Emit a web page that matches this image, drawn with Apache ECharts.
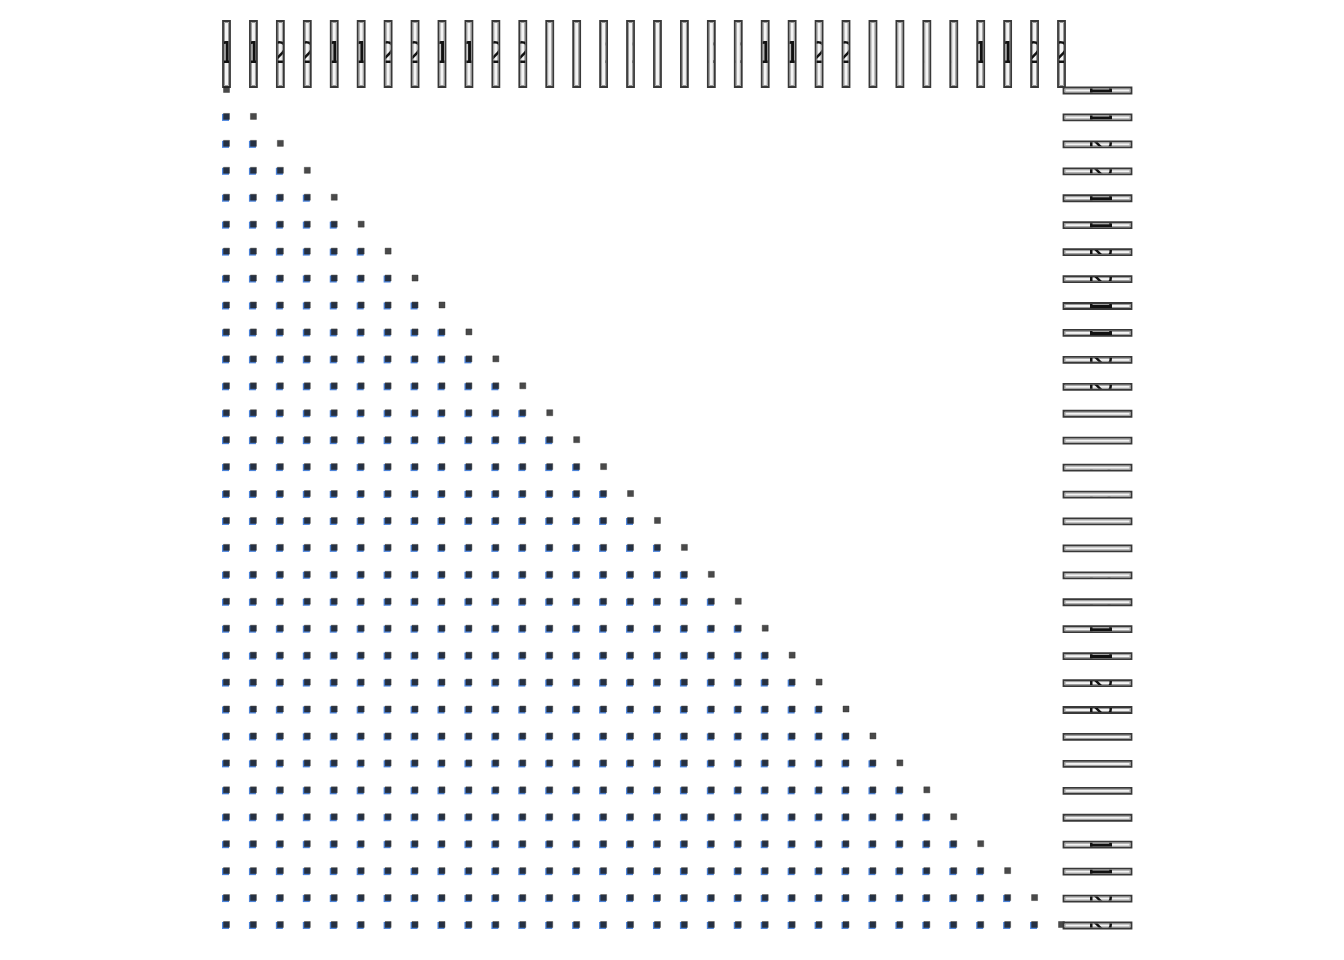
<!DOCTYPE html>
<html>
<head>
<meta charset="utf-8">
<style>html,body{margin:0;padding:0;background:#fff;}#main{width:1344px;height:960px;}</style>
<script src="https://cdn.jsdelivr.net/npm/echarts@6/dist/echarts.min.js"></script>
</head>
<body>
<div id="main"></div>
<script>
// Category labels (same for columns and rows)
var labels = ["1","1","2","2","1","1","2","2","1","1","2","2",
              "11","11","12","12","11","11","12","12","1","1","2","2",
              "11","11","11","11","1","1","2","2"];

// Lower-triangle cells: [col, row]
var offDiagonal = [];
var diagonalAndBelow = [];
for (var r = 0; r < labels.length; r++) {
  for (var c = 0; c <= r; c++) {
    diagonalAndBelow.push([c, r]);
    if (c < r) offDiagonal.push([c, r]);
  }
}
var topLabelData = labels.map(function (l, i) { return [i, 0]; });
var rightLabelData = labels.map(function (l, i) { return [labels.length - 1, i]; });

var chart = echarts.init(document.getElementById('main'));
var FONT = '30px "DejaVu Sans", sans-serif';

function boxGroup(x, y, w, h, text, rotation, tx, ty) {
  return {
    type: 'group',
    children: [
      { type: 'rect', shape: { x: x, y: y, width: w, height: h },
        style: { fill: '#d4d4d4', stroke: '#383838', lineWidth: 1.8 } },
      { type: 'rect', shape: { x: x + 1.5, y: y + 1.5, width: w - 3, height: h - 3 },
        style: { fill: '#f4f4f4', stroke: '#9a9a9a', lineWidth: 1 } },
      { type: 'group',
        clipPath: { type: 'rect', shape: { x: x + 1, y: y + 1, width: w - 2, height: h - 2 } },
        children: [
          { type: 'text', x: tx, y: ty, rotation: rotation,
            style: { text: text, font: FONT, fill: '#111',
                     align: 'center', verticalAlign: 'middle',
                     textAlign: 'center', textVerticalAlign: 'middle' } }
        ] }
    ]
  };
}

var option = {
  animation: false,
  grid: { left: 226, right: 283, top: 90, bottom: 35 },
  xAxis: {
    type: 'category', data: labels, position: 'top', boundaryGap: false,
    axisLine: { show: false }, axisTick: { show: false }, axisLabel: { show: false },
    splitLine: { show: false }
  },
  yAxis: {
    type: 'category', data: labels, position: 'right', inverse: true, boundaryGap: false,
    axisLine: { show: false }, axisTick: { show: false }, axisLabel: { show: false },
    splitLine: { show: false }
  },
  series: [
    {
      type: 'scatter', name: 'below', data: offDiagonal,
      symbol: 'rect', symbolSize: 7, symbolOffset: [-0.5, 0.5],
      itemStyle: { color: '#1f66d6' }, silent: true
    },
    {
      type: 'scatter', name: 'cells', data: diagonalAndBelow,
      symbol: 'rect', symbolSize: 6, symbolOffset: [0.5, -0.5],
      itemStyle: { color: '#1c1c1c', borderColor: '#2a2a2a', borderWidth: 0.5 }, silent: true
    },
    {
      type: 'custom', name: 'topLabels', data: topLabelData, silent: true,
      renderItem: function (params, api) {
        var p = api.coord([api.value(0), api.value(1)]);
        var cx = p[0] + 0.5;
        return boxGroup(cx - 3.5, p[1] - 69, 7, 66, labels[params.dataIndex], 0, cx, p[1] - 35);
      }
    },
    {
      type: 'custom', name: 'rightLabels', data: rightLabelData, silent: true, z: 3,
      renderItem: function (params, api) {
        var p = api.coord([api.value(0), api.value(1)]);
        var cy = p[1] + 0.5;
        return boxGroup(p[0] + 2.5, cy - 3, 68, 6, labels[params.dataIndex], -Math.PI / 2, p[0] + 36.5, cy);
      }
    }
  ]
};
chart.setOption(option);
</script>
</body>
</html>
